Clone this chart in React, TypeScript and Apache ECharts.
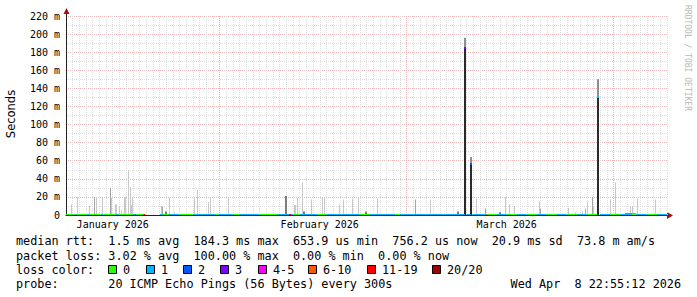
import React, { useEffect, useRef } from 'react';
import * as echarts from 'echarts';

// x values are days since 2026-01-09 00:00 (90 day window ending Apr 9)
const DAY_MIN = 0;
const DAY_MAX = 90;
const monthStartDays = [23, 51, 82]; // Feb 1, Mar 1, Apr 1
const monthLabelDays = [7, 38, 66];
const monthLabels = ['January 2026', 'February 2026', 'March 2026'];

const yMin = 0;
const yMax = 220;
const yStep = 20;

const lossColors = ['#26ff00', '#00b8ff', '#0059ff', '#7e00ff', '#ff00ff', '#ff5a00', '#ff0000', '#a00000'];
const lossLabels = ['0', '1', '2', '3', '4-5', '6-10', '11-19', '20/20'];

// smoke tops [day, ms]
const lightSmoke: [number, number][] = [
  [0.75, 12], [1.69, 20], [3.59, 10], [4.54, 20], [5.44, 20], [6.84, 19], [7.34, 12], [7.59, 12],
  [7.94, 9], [8.34, 5], [8.73, 20], [8.98, 20], [9.33, 50], [9.63, 31], [9.84, 11], [9.93, 20],
  [14.23, 10], [15.47, 19], [16.22, 3], [19.17, 18], [19.66, 28], [21.31, 14], [21.61, 19], [24.3, 20],
  [34.22, 11], [34.44, 11], [34.64, 19], [35.38, 36], [36.69, 17], [38.38, 19], [38.68, 19], [40.93, 11],
  [41.52, 17], [42.87, 18], [43.83, 20], [46.62, 18], [54.55, 17], [61.4, 18], [65.89, 20], [66.34, 12],
  [67.13, 10], [70.98, 15], [75.25, 8], [76.37, 3], [77.35, 4], [78.06, 15], [79.06, 9], [81.57, 17],
  [82.31, 36], [84.46, 9], [84.8, 10], [85.55, 18], [88.3, 17],
];
const midSmoke: [number, number][] = [
  [4.27, 20], [6.63, 30], [14.48, 9], [52.37, 17], [62.89, 7], [71.13, 7], [77.82, 7], [78.87, 20],
];
const darkSmoke: [number, number][] = [
  [14.93, 4], [32.9, 21], [35.64, 4], [44.92, 4], [58.7, 4], [64.99, 3],
];

// heavy loss events [day, medianMs, maxMs, lossIndex]
const lossEvents: [number, number, number, number][] = [
  [59.82, 184.3, 196, 3],
  [60.72, 56, 64, 2],
  [79.78, 131, 150, 1],
];

// median line segments [startDay, endDay, medianMs, lossIndex]
const medianSegments: [number, number, number, number][] = [
  [0, 1.3, 0.8, 0], [1.3, 1.6, 0.8, 1], [1.6, 3.1, 0.8, 0], [3.1, 3.5, 0.8, 1], [3.5, 5.2, 0.8, 0],
  [5.2, 5.6, 0.8, 1], [5.6, 7.4, 0.8, 0], [7.4, 7.9, 0.8, 1], [7.9, 10.0, 0.8, 0], [10.0, 10.5, 0.8, 1],
  [10.5, 11.57, 0.8, 0], [11.57, 11.87, 0.8, 6],
  [14.07, 14.5, 0.8, 1], [14.5, 15.4, 0.8, 0], [15.4, 17.0, 0.8, 1], [17.0, 19.0, 0.8, 0], [19.0, 22.3, 0.8, 1],
  [22.3, 22.8, 0.8, 0], [22.8, 25.0, 0.8, 1], [25.0, 26.0, 0.8, 0], [26.0, 29.0, 0.8, 1], [29.0, 31.6, 0.8, 0],
  [31.6, 33.4, 0.8, 1], [33.4, 33.7, 0.8, 6], [33.7, 34.0, 0.8, 1], [34.0, 35.0, 0.8, 0], [35.0, 37.7, 0.8, 1],
  [37.7, 39.0, 0.8, 0], [39.0, 44.0, 0.8, 1], [44.0, 45.5, 0.8, 0], [45.5, 49.3, 0.8, 1], [49.3, 50.0, 0.8, 0],
  [50.0, 59.7, 0.8, 1], [59.95, 60.6, 0.8, 1], [60.85, 62.8, 0.8, 1], [62.8, 63.0, 0.8, 5], [63.0, 64.5, 0.8, 0],
  [64.5, 66.0, 0.8, 1], [66.0, 67.5, 0.8, 0], [67.5, 69.0, 0.8, 1], [69.0, 70.5, 0.8, 0], [70.5, 72.0, 0.8, 1],
  [72.0, 73.5, 0.8, 0], [73.5, 75.0, 0.8, 1], [75.0, 76.5, 0.8, 0], [76.5, 78.0, 0.8, 1], [78.0, 79.6, 0.8, 0],
  [79.95, 81.5, 0.8, 1], [81.5, 83.0, 0.8, 0], [83.0, 83.7, 0.8, 1], [83.7, 84.8, 2.5, 1], [84.8, 85.4, 2.0, 0],
  [85.4, 87.0, 0.8, 1], [87.0, 88.5, 0.8, 0], [88.5, 90.0, 0.8, 1],
];

const statLines = [
  'median rtt:  1.5 ms avg  184.3 ms max  653.9 us min  756.2 us now  20.9 ms sd  73.8 m am/s',
  'packet loss: 3.02 % avg  100.00 % max  0.00 % min  0.00 % now',
];
const lossTitle = 'loss color:';
const probeLine = 'probe:       20 ICMP Echo Pings (56 Bytes) every 300s';
const dateLine = 'Wed Apr  8 22:55:12 2026';
const watermark = 'RRDTOOL / TOBI OETIKER';
const yTitle = 'Seconds';

const MONO = "'DejaVu Sans Mono', monospace";
const LEGEND_FONT = `11.8px ${MONO}`;
const CW = 7.1;

function tokens(s: string, x0: number, y: number): any[] {
  const out: any[] = [];
  const re = /\S+(?: \S+)*/g;
  let m: RegExpExecArray | null;
  while ((m = re.exec(s))) {
    out.push({
      type: 'text', x: x0 + m.index * CW, y, silent: true,
      style: { text: m[0], font: LEGEND_FONT, fill: '#000', textAlign: 'left', textVerticalAlign: 'middle', align: 'left', verticalAlign: 'middle' },
    });
  }
  return out;
}

function smokeSeries(data: [number, number][], color: string, width: number) {
  return {
    type: 'custom', data, encode: { x: 0, y: 1 }, clip: true, silent: true, z: 3,
    renderItem: (_p: any, api: any) => {
      const d = api.value(0);
      const v = api.value(1);
      const b = api.coord([d, 0]);
      const t = api.coord([d, v]);
      const x = Math.floor(b[0]) - Math.floor((width - 1) / 2);
      return { type: 'rect', shape: { x, y: t[1], width, height: b[1] - t[1] }, style: { fill: color } };
    },
  };
}

export default function App() {
  const ref = useRef<HTMLDivElement>(null);
  useEffect(() => {
    const chart = echarts.init(ref.current!, null, { renderer: 'svg' });
    const gLeft = 66, gTop = 16, gRight = 30, gBottom = 82;
    const axisY = 297 - gBottom;
    const plotRight = 697 - gRight;

    const graphics: any[] = [];
    graphics.push({
      type: 'text', x: 11, y: 114, rotation: Math.PI / 2, silent: true,
      style: { text: yTitle, font: "11.5px 'DejaVu Sans', sans-serif", fill: '#000', textAlign: 'center', textVerticalAlign: 'middle', align: 'center', verticalAlign: 'middle' },
    });
    graphics.push({
      type: 'text', x: 687, y: 5, rotation: -Math.PI / 2, silent: true,
      style: { text: watermark, font: `8px ${MONO}`, fill: '#b8b8b8', textAlign: 'left', textVerticalAlign: 'middle', align: 'left', verticalAlign: 'middle' },
    });
    // axis arrows
    graphics.push({ type: 'line', silent: true, shape: { x1: gLeft + 0.5, y1: gTop, x2: gLeft + 0.5, y2: gTop - 3 }, style: { stroke: '#333', lineWidth: 1 } });
    graphics.push({ type: 'polygon', silent: true, shape: { points: [[gLeft + 0.5, 8], [gLeft - 2.5, 14], [gLeft + 3.5, 14]] }, style: { fill: '#a01010' } });
    graphics.push({ type: 'polygon', silent: true, shape: { points: [[plotRight, axisY - 3], [plotRight + 6, axisY + 0.5], [plotRight, axisY + 4]] }, style: { fill: '#a01010' } });

    statLines.forEach((l, i) => graphics.push(...tokens(l, 16, 241 + i * 14.5)));
    graphics.push(...tokens(lossTitle, 16, 270));
    const sqX = [108, 146, 183, 220, 258, 308, 367, 432];
    lossColors.forEach((c, i) => {
      graphics.push({ type: 'rect', silent: true, shape: { x: sqX[i] + 0.5, y: 265.5, width: 8, height: 8 }, style: { fill: c, stroke: '#000', lineWidth: 1 } });
      graphics.push(...tokens(lossLabels[i], sqX[i] + 15, 270));
    });
    graphics.push(...tokens(probeLine, 16, 284));
    graphics.push(...tokens(dateLine, 681 - dateLine.length * CW, 284));

    const majorGrid = '#efb4b4';
    const minorGrid = '#dedede';

    const option: any = {
      animation: false,
      backgroundColor: '#ffffff',
      grid: { left: gLeft, top: gTop, right: gRight, bottom: gBottom, containLabel: false },
      xAxis: {
        type: 'value', min: DAY_MIN, max: DAY_MAX, interval: 1,
        axisLine: { show: true, onZero: false, lineStyle: { color: '#222', width: 1 } },
        axisTick: { show: false },
        axisLabel: {
          margin: 4, color: '#000', fontFamily: MONO, fontSize: 10,
          formatter: (v: number) => { const i = monthLabelDays.indexOf(Math.round(v)); return i >= 0 ? monthLabels[i] : ''; },
        },
        splitLine: { show: true, lineStyle: { color: minorGrid, type: [1, 1], width: 1 } },
      },
      yAxis: {
        type: 'value', min: yMin, max: yMax, interval: yStep,
        axisLine: { show: true, lineStyle: { color: '#222', width: 1 } },
        axisTick: { show: false },
        axisLabel: { margin: 6, color: '#000', fontFamily: MONO, fontSize: 10, formatter: (v: number) => (v === 0 ? '0' : `${v} m`) },
        splitLine: { show: true, lineStyle: { color: majorGrid, type: [1, 1], width: 1 } },
        minorTick: { show: false, splitNumber: 2 },
        minorSplitLine: { show: true, lineStyle: { color: minorGrid, type: [1, 1], width: 1 } },
      },
      series: [
        {
          type: 'line', z: 1, silent: true, data: monthStartDays.map((d) => [d, 0]), showSymbol: false,
          lineStyle: { opacity: 0 },
          markLine: {
            silent: true, symbol: ['none', 'none'], label: { show: false }, animation: false,
            lineStyle: { color: majorGrid, type: [1, 1], width: 1 },
            data: monthStartDays.map((d) => ({ xAxis: d })),
          },
        },
        smokeSeries(lightSmoke, '#c8c8c8', 1),
        smokeSeries(midSmoke, '#a4a4a4', 1),
        smokeSeries(darkSmoke, '#7c7c7c', 2),
        {
          type: 'custom', data: lossEvents, encode: { x: 0, y: 2 }, clip: true, silent: true, z: 4,
          renderItem: (_p: any, api: any) => {
            const d = api.value(0), med = api.value(1), mx = api.value(2), li = api.value(3);
            const b = api.coord([d, 0]);
            const m = api.coord([d, med]);
            const t = api.coord([d, mx]);
            const x = Math.floor(b[0]) - 1;
            return {
              type: 'group',
              children: [
                { type: 'rect', shape: { x, y: t[1], width: 2, height: b[1] - t[1] }, style: { fill: '#909090' } },
                { type: 'rect', shape: { x, y: m[1], width: 2, height: b[1] - m[1] }, style: { fill: '#2a2a2a' } },
                { type: 'rect', shape: { x, y: Math.round(m[1]) - 1, width: 2, height: 2 }, style: { fill: lossColors[li] } },
              ],
            };
          },
        },
        {
          type: 'custom', data: medianSegments, encode: { x: [0, 1], y: 2 }, clip: true, silent: true, z: 5,
          renderItem: (_p: any, api: any) => {
            const s = api.value(0), e = api.value(1), v = api.value(2), li = api.value(3);
            const p0 = api.coord([s, v]);
            const p1 = api.coord([e, v]);
            return { type: 'rect', shape: { x: p0[0], y: Math.round(p0[1]), width: p1[0] - p0[0], height: 2 }, style: { fill: lossColors[li] } };
          },
        },
      ],
      graphic: graphics,
    };
    chart.setOption(option);
    return () => chart.dispose();
  }, []);
  return <div ref={ref} style={{ position: 'fixed', left: 0, top: 0, width: 697, height: 297 }} />;
}
